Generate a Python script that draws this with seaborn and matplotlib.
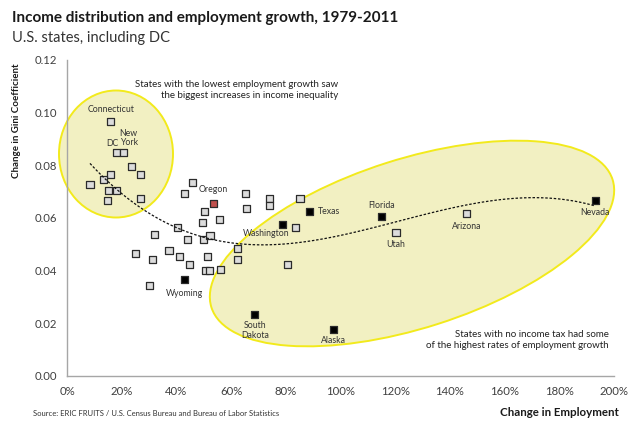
import matplotlib
matplotlib.use("Agg")
import matplotlib.pyplot as plt
import matplotlib.patches as mpatches
import numpy as np
import pandas as pd
import seaborn as sns

# change in employment (%), change in gini, group, label
emp = [16.0, 18.2, 20.7, 23.7, 26.9, 16.0, 13.3, 8.4, 15.1, 18.2, 14.7, 26.9,
       45.9, 42.9, 53.5, 65.1, 65.7, 50.2, 49.6, 55.9, 40.5, 31.9, 44.2, 49.8,
       52.3, 62.4, 62.4, 24.9, 31.3, 37.3, 41.1, 44.9, 51.4, 50.8, 52.0, 56.2,
       42.9, 30.3,
       74.2, 74.2, 85.2, 88.8, 78.7, 83.4, 80.5, 68.7, 97.4, 115.1, 120.3,
       146.1, 193.2]
gini = [0.0966, 0.0848, 0.0848, 0.0795, 0.0765, 0.0765, 0.0747, 0.0727,
        0.0706, 0.0706, 0.0665, 0.0673,
        0.0735, 0.0694, 0.0655, 0.0694, 0.0637, 0.0625, 0.0584, 0.0595,
        0.0565, 0.0536, 0.0517, 0.0517, 0.0533, 0.0485, 0.0443, 0.0466,
        0.0443, 0.0475, 0.0453, 0.0424, 0.0453, 0.0401, 0.0401, 0.0404,
        0.0365, 0.0343,
        0.0675, 0.0646, 0.0675, 0.0624, 0.0576, 0.0565, 0.0424, 0.0234,
        0.0175, 0.0605, 0.0544, 0.0618, 0.0665]
group = ["other"] * 14 + ["oregon"] + ["other"] * 21 + ["notax", "other"] + \
        ["other", "other", "other", "notax", "notax", "other", "other",
         "notax", "notax", "notax", "other", "other", "notax"]
names = ["Connecticut", "DC", "New\nYork"] + [""] * 11 + ["Oregon"] + [""] * 21 + \
        ["Wyoming", ""] + ["", "", "", "Texas", "Washington", "", "",
                           "South\nDakota", "Alaska", "Florida", "Utah",
                           "Arizona", "Nevada"]

# label offsets in pixels (dx, dy up) and horizontal alignment
label_pos = {
    "Connecticut": (0, 12, "center"), "DC": (-4, 9, "center"),
    "New\nYork": (5, 15, "center"), "Oregon": (0, 14, "center"),
    "Wyoming": (0, -14, "center"), "Texas": (8, 0, "left"),
    "Washington": (-16, -9, "center"), "South\nDakota": (0, -16, "center"),
    "Alaska": (0, -11, "center"), "Florida": (0, 11, "center"),
    "Utah": (0, -12, "center"), "Arizona": (0, -13, "center"),
    "Nevada": (0, -12, "center"),
}

df = pd.DataFrame({"emp": emp, "gini": gini, "group": group, "name": names})

sns.set_style("white")
plt.rcParams["font.family"] = ["Lato", "DejaVu Sans"]

W, H = 640, 432
fig = plt.figure(figsize=(W / 100, H / 100), dpi=100)
ax = fig.add_axes([67 / W, 1 - 376 / H, (614 - 67) / W, (376 - 60) / H])


def px(x, y):
    return x / W, 1 - y / H


# highlight ellipses, drawn in pixel space
for cx, cy, w, h, ang in [(116, 154, 114, 127, 0), (412, 243.5, 421, 169, 17.7)]:
    e = mpatches.Ellipse((cx / 100, (H - cy) / 100), w / 100, h / 100, angle=ang,
                         transform=fig.dpi_scale_trans, facecolor="#f2f0c2",
                         edgecolor="#f2ea1c", lw=1.4, clip_on=False, zorder=0)
    ax.add_patch(e)

palette = {"other": "#dcdcdc", "notax": "#000000", "oregon": "#c0504d"}
sns.scatterplot(data=df, x="emp", y="gini", hue="group", palette=palette,
                marker="s", s=26, edgecolor="#2b2b2b", linewidth=0.9,
                legend=False, ax=ax, zorder=3)

sns.regplot(data=df, x="emp", y="gini", order=3, scatter=False, ci=None,
            truncate=True, ax=ax,
            line_kws=dict(color="#111111", lw=0.9, ls=(0, (2, 1.4)), zorder=4))

for _, r in df[df["name"] != ""].iterrows():
    dx, dy, ha = label_pos[r["name"]]
    ax.annotate(r["name"], (r["emp"], r["gini"]), xytext=(dx * 0.72, dy * 0.72),
                textcoords="offset points", ha=ha, va="center", fontsize=6.3,
                color="#333333", linespacing=1.05, zorder=5)

ax.set_xlim(0, 200)
ax.set_ylim(0, 0.12)
ax.set_xticks(np.arange(0, 201, 20))
ax.set_xticklabels([f"{v}%" for v in range(0, 201, 20)])
ax.set_yticks(np.arange(0, 0.121, 0.02))
ax.set_yticklabels([f"{v:.2f}" for v in np.arange(0, 0.121, 0.02)])
ax.set_xlabel("")
ax.set_ylabel("")
sns.despine(ax=ax)
for s in ["left", "bottom"]:
    ax.spines[s].set_color("#a6a6a6")
    ax.spines[s].set_linewidth(1)
    ax.spines[s].set_zorder(1)
ax.tick_params(axis="both", direction="inout", length=6, width=0.8,
               color="#a6a6a6", labelcolor="#404040", labelsize=8.2)
ax.tick_params(axis="y", pad=4)
ax.tick_params(axis="x", pad=4)

fig.text(*px(12, 18), "Income distribution and employment growth, 1979-2011",
         fontsize=11, fontweight="bold", color="#1a1a1a", va="center")
fig.text(*px(12, 38), "U.S. states, including DC", fontsize=10.5,
         color="#333333", va="center")
fig.text(*px(17, 63), "Change in Gini Coefficient", rotation=90, ha="center",
         va="top", fontsize=7, fontweight="bold", color="#1a1a1a")
fig.text(*px(619, 413), "Change in Employment", ha="right", va="center",
         fontsize=8.3, fontweight="bold", color="#1a1a1a")
fig.text(*px(33, 413), "Source: ERIC FRUITS / U.S. Census Bureau and Bureau of Labor Statistics",
         ha="left", va="center", fontsize=5.5, color="#333333")

fig.text(*px(338, 90), "States with the lowest employment growth saw\n"
         "the biggest increases in income inequality", ha="right", va="center",
         fontsize=7, color="#222222", linespacing=1.3)
fig.text(*px(609, 340), "States with no income tax had some\n"
         "of the highest rates of employment growth", ha="right", va="center",
         fontsize=7, color="#222222", linespacing=1.3)

fig.savefig("out.png", dpi=100)
